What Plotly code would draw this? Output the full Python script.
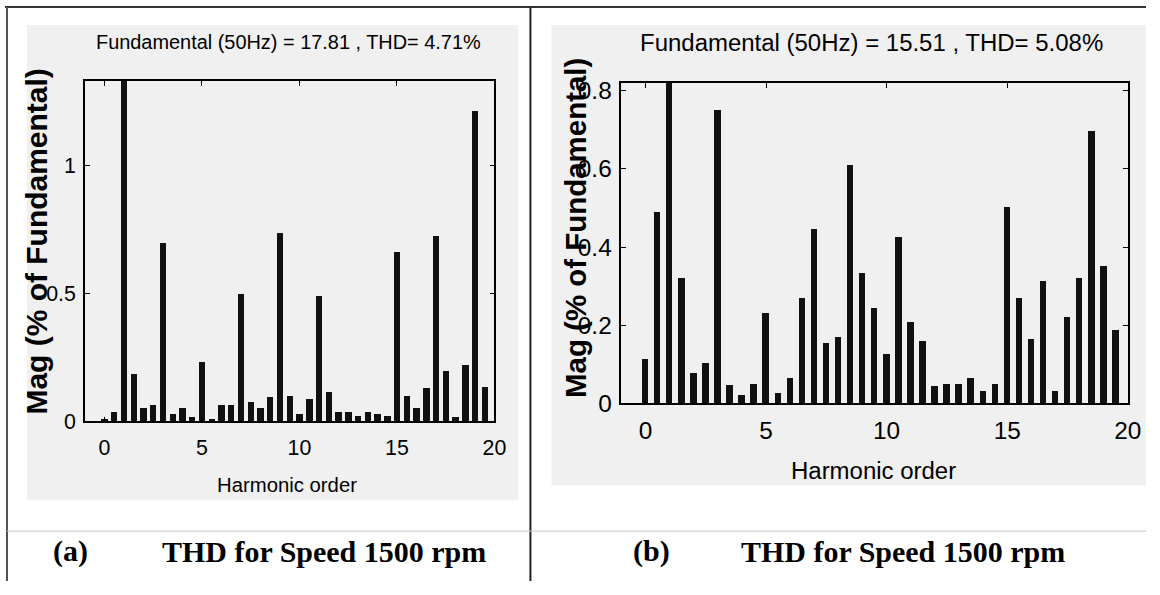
import plotly.graph_objects as go

# ---------------- data ----------------
harmonic_order = [i * 0.5 for i in range(40)]  # 0, 0.5, ..., 19.5

mag_a = [0.009, 0.035, 100.0, 0.186, 0.051, 0.064, 0.700, 0.030, 0.051, 0.017,
         0.233, 0.009, 0.064, 0.064, 0.499, 0.075, 0.051, 0.095, 0.737, 0.100,
         0.030, 0.087, 0.492, 0.116, 0.035, 0.035, 0.022, 0.035, 0.030, 0.022,
         0.662, 0.100, 0.051, 0.129, 0.724, 0.199, 0.017, 0.222, 1.216, 0.134]

mag_b = [0.115, 0.490, 100.0, 0.320, 0.079, 0.103, 0.750, 0.048, 0.021, 0.050,
         0.232, 0.026, 0.064, 0.269, 0.447, 0.155, 0.169, 0.609, 0.333, 0.244,
         0.127, 0.426, 0.209, 0.161, 0.044, 0.049, 0.049, 0.064, 0.031, 0.049,
         0.503, 0.269, 0.164, 0.313, 0.031, 0.220, 0.320, 0.698, 0.351, 0.188]

title_a = "Fundamental (50Hz) = 17.81 , THD= 4.71%"
title_b = "Fundamental (50Hz) = 15.51 , THD= 5.08%"
x_label = "Harmonic order"
y_label = "Mag (% of Fundamental)"
caption_tag_a, caption_tag_b = "(a)", "(b)"
caption_text = "THD for Speed 1500 rpm"

x_ticks = [0, 5, 10, 15, 20]
y_ticks_a = [0, 0.5, 1]
y_ticks_b = [0, 0.2, 0.4, 0.6, 0.8]

# ---------------- layout helpers ----------------
W, H = 1160, 595
SX, SY, OX, OY = 0.989, 0.9697, 0.0, 5.0   # mapping of page pixels to the photographed picture
K = 1.016                                  # font compensation for that mapping

def px(x):
    return min(max((x - OX) / SX / W, 0.0), 1.0)
def py(y):
    return min(max(1 - (y - OY) / SY / H, 0.0), 1.0)

SANS = "Liberation Sans, Arial, sans-serif"
SERIF = "Liberation Serif, Times New Roman, serif"
BAR = "#111111"

fig = go.Figure()
fig.add_trace(go.Bar(x=harmonic_order, y=mag_a, width=0.33, marker=dict(color=BAR, line=dict(width=0)),
                     xaxis="x", yaxis="y", showlegend=False, hoverinfo="skip"))
fig.add_trace(go.Bar(x=harmonic_order, y=mag_b, width=0.27, marker=dict(color=BAR, line=dict(width=0)),
                     xaxis="x2", yaxis="y2", showlegend=False, hoverinfo="skip"))

axis_common = dict(showgrid=False, zeroline=False, showline=True, linecolor="black", linewidth=1.5,
                   mirror="ticks", ticks="inside", ticklen=5, tickcolor="black", tickwidth=1)

fig.update_layout(
    width=W, height=H,
    margin=dict(l=0, r=0, t=0, b=0),
    paper_bgcolor="white",
    plot_bgcolor="white",
    bargap=0,
    xaxis=dict(domain=[px(85), px(495)], range=[-1, 20], anchor="y", tickvals=x_ticks,
               ticklabelstandoff=6,
               tickfont=dict(family=SANS, size=21 * K, color="black"), **axis_common),
    yaxis=dict(domain=[py(422), py(81)], range=[0, 1.332], anchor="x", tickvals=y_ticks_a,
               ticktext=["0", "0.5", "1"], ticklabelstandoff=3,
               tickfont=dict(family=SANS, size=21 * K, color="black"), **axis_common),
    xaxis2=dict(domain=[px(622), px(1129)], range=[-1, 20], anchor="y2", tickvals=x_ticks,
                ticklabelstandoff=5,
                tickfont=dict(family=SANS, size=24 * K, color="black"), **axis_common),
    yaxis2=dict(domain=[py(404), py(83)], range=[0, 0.82], anchor="x2", tickvals=y_ticks_b,
                ticktext=["0", "0.2", "0.4", "0.6", "0.8"], ticklabelstandoff=3,
                tickfont=dict(family=SANS, size=24 * K, color="black"), **axis_common),
)

shapes = [
    # gray figure panels
    dict(type="rect", xref="paper", yref="paper", x0=px(27), x1=px(519), y0=py(501), y1=py(25),
         fillcolor="#f0f0f0", line=dict(width=0), layer="below"),
    dict(type="rect", xref="paper", yref="paper", x0=px(552), x1=px(1157), y0=py(486), y1=py(25),
         fillcolor="#f0f0f0", line=dict(width=0), layer="below"),
    # table borders
    dict(type="line", xref="paper", yref="paper", x0=px(5), x1=1, y0=py(7), y1=py(7),
         line=dict(color="#333333", width=2)),
    dict(type="line", xref="paper", yref="paper", x0=px(7), x1=px(7), y0=py(7), y1=0,
         line=dict(color="#555555", width=2)),
    dict(type="line", xref="paper", yref="paper", x0=px(531), x1=px(531), y0=py(7), y1=0,
         line=dict(color="#222222", width=2)),
    dict(type="line", xref="paper", yref="paper", x0=px(7), x1=1, y0=py(532), y1=py(532),
         line=dict(color="#c4c4c4", width=1)),
]
fig.update_layout(shapes=shapes)

ann = []
ann.append(dict(text=title_a, x=px(289), y=py(42), font=dict(family=SANS, size=19.6 * K, color="black")))
ann.append(dict(text=title_b, x=px(872), y=py(43), font=dict(family=SANS, size=23.6 * K, color="black")))
ann.append(dict(text=x_label, x=px(287), y=py(486), font=dict(family=SANS, size=20 * K, color="black")))
ann.append(dict(text=x_label, x=px(874), y=py(471), font=dict(family=SANS, size=23.6 * K, color="black")))
ann.append(dict(text="<b>" + y_label + "</b>", x=px(37), y=py(242), textangle=-90,
                font=dict(family=SANS, size=29.5 * K, color="black")))
ann.append(dict(text="<b>" + y_label + "</b>", x=px(576), y=py(228), textangle=-90,
                font=dict(family=SANS, size=29 * K, color="black")))
serif = dict(family=SERIF, size=29.5 * K, color="black")
ann.append(dict(text="<b>" + caption_tag_a + "</b>", x=px(71), y=py(552), font=serif))
ann.append(dict(text="<b>" + caption_text + "</b>", x=px(324), y=py(552), font=serif))
ann.append(dict(text="<b>" + caption_tag_b + "</b>", x=px(652), y=py(552), font=serif))
ann.append(dict(text="<b>" + caption_text + "</b>", x=px(904), y=py(552), font=serif))
for a in ann:
    a.update(xref="paper", yref="paper", showarrow=False, xanchor="center", yanchor="middle")
fig.update_layout(annotations=ann, hovermode=False)

fig.write_html(
    "out.html",
    config={"displayModeBar": False, "responsive": False},
    post_script=("document.documentElement.style.margin='0';document.documentElement.style.overflow='hidden';"
                 "document.body.style.margin='0';document.body.style.padding='0';"
                 "document.body.style.overflow='hidden';"),
)
